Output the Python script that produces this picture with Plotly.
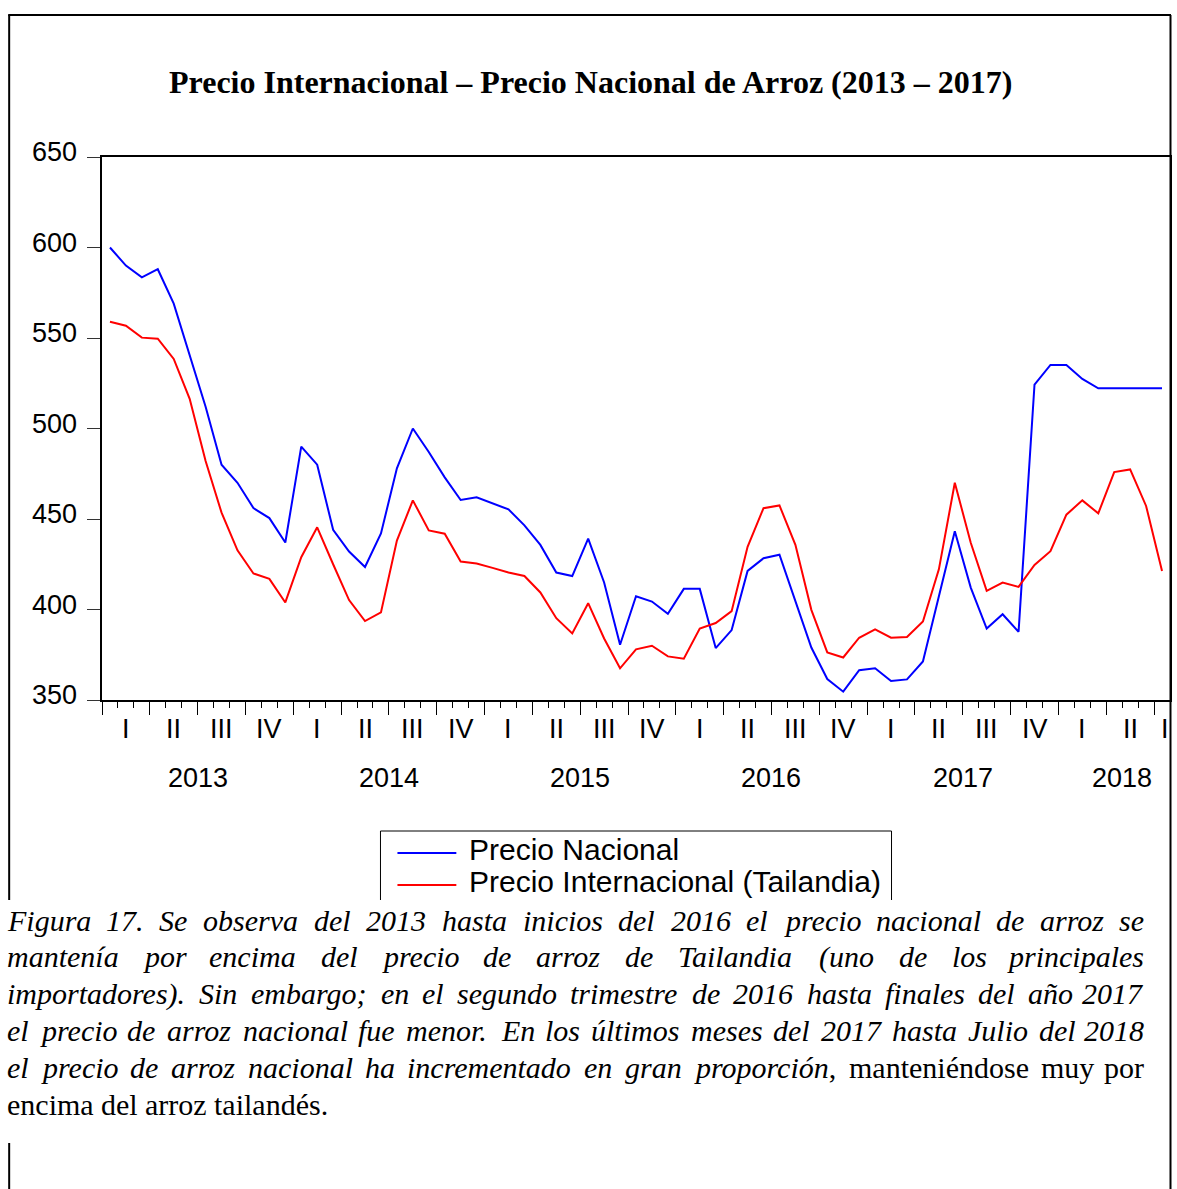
import plotly.graph_objects as go

# ---------------- data (monthly, Jan 2013 - Jul 2018) ----------------
years = [2013, 2014, 2015, 2016, 2017, 2018]
quarter_names = ["I", "II", "III", "IV"]
months = [f"{y}-{m:02d}" for y in years for m in range(1, 13)][:67]

precio_nacional = [
    600, 590, 583.5, 588, 569, 540, 512, 480, 470, 456, 450.5, 437,
    490, 480, 444, 432, 423.5, 442, 478, 500, 487, 473, 460.5, 462,
    458.5, 455.3, 446.5, 435.7, 420.4, 418.5, 439.2, 414.9, 380.5, 407.3, 404.4, 397.6,
    411.4, 411.4, 378.7, 388.6, 421.3, 428.3, 430.3, 404.7, 379.0, 361.6, 354.6, 366.5,
    367.5, 360.5, 361.4, 371.3, 407.5, 443.2, 412.1, 389.5, 397.4, 387.7, 524.3, 535.1,
    535.1, 527.4, 522.2, 522.2, 522.2, 522.2, 522.2,
]
precio_internacional = [
    559, 556.8, 550.2, 549.6, 538.4, 516.4, 482, 453.5, 432.7, 419.9, 416.9, 403.9,
    428.9, 445.4, 425, 405.2, 393.6, 398.4, 438.1, 460.3, 443.7, 441.9, 426.5, 425.4,
    423, 420.4, 418.5, 409.4, 395.2, 386.8, 403.5, 384, 367.5, 378, 380, 374.1,
    372.8, 389.5, 392.5, 399.1, 434.6, 456, 457.5, 435.7, 399.8, 376.3, 373.5, 384.4,
    389, 384.4, 384.8, 393.4, 422.2, 470, 436.9, 410.3, 414.9, 412.5, 424.6, 432.2,
    452.4, 460.3, 453.1, 475.9, 477.4, 457.2, 421.3,
]
y_ticks = [350, 400, 450, 500, 550, 600, 650]

title_text = "Precio Internacional \u2013 Precio Nacional de Arroz (2013 \u2013 2017)"
legend_names = ["Precio Nacional", "Precio Internacional (Tailandia)"]
caption_lines = [
    ("Figura 17. Se observa del 2013 hasta inicios del 2016 el precio nacional de arroz se", ""),
    ("mantenía por encima del precio de arroz de Tailandia (uno de los principales", ""),
    ("importadores). Sin embargo; en el segundo trimestre de 2016 hasta finales del año 2017", ""),
    ("el precio de arroz nacional fue menor. En los últimos meses del 2017 hasta Julio del 2018", ""),
    ("el precio de arroz nacional ha incrementado en gran proporción", ", manteniéndose muy por"),
    ("", "encima del arroz tailandés."),
]

# ---------------- geometry (page pixels) ----------------
W, H = 1177, 1189
L, R, T, B = 102, 1172, 157, 700


def px(xp):
    return (xp - L) / (R - L)


def py(yp):
    return (B - yp) / (B - T)


x = list(range(len(months)))
BLUE = "#0000FF"
RED = "#FF0000"
SANS = "Liberation Sans, Arial, sans-serif"
SERIF = "Liberation Serif, Times New Roman, serif"

fig = go.Figure()
fig.add_trace(go.Scatter(x=x, y=precio_nacional, mode="lines", name=legend_names[0],
                         line=dict(color=BLUE, width=2), showlegend=False))
fig.add_trace(go.Scatter(x=x, y=precio_internacional, mode="lines", name=legend_names[1],
                         line=dict(color=RED, width=2), showlegend=False))

quarter_bounds = [-0.5 + 3 * k for k in range(23)]

fig.update_layout(
    width=W, height=H,
    margin=dict(l=L, r=W - R, t=T, b=H - B, pad=0),
    paper_bgcolor="white", plot_bgcolor="white",
    showlegend=False,
    xaxis=dict(range=[-0.5, len(months) - 0.5], showgrid=False, zeroline=False,
               showline=True, linecolor="black", linewidth=1.5, mirror=True,
               ticks="outside", tickmode="array", tickvals=quarter_bounds,
               ticklen=13, tickwidth=1.3, tickcolor="black", showticklabels=False,
               minor=dict(ticks="outside", tick0=-0.5, dtick=1, ticklen=6,
                          tickwidth=1.3, tickcolor="black", showgrid=False)),
    yaxis=dict(range=[350, 650], showgrid=False, zeroline=False,
               showline=True, linecolor="black", linewidth=1.5, mirror=True,
               ticks="outside", tickmode="array", tickvals=y_ticks,
               ticklen=13, tickwidth=1.3, tickcolor="#333", showticklabels=False),
)

ann = []
shapes = []

# title
ann.append(dict(x=px(591), y=py(82), xref="paper", yref="paper", showarrow=False,
                xanchor="center", yanchor="middle", text=f"<b>{title_text}</b>",
                font=dict(family=SERIF, size=32, color="black")))

# y tick labels (sit slightly above the tick)
for v in y_ticks:
    ann.append(dict(x=px(79), y=v, xref="paper", yref="y", yshift=5, showarrow=False,
                    xanchor="right", yanchor="middle", text=str(v),
                    font=dict(family=SANS, size=27, color="black")))

# quarter labels
nq = 23
for q in range(nq):
    c = 3 * q + 1
    txt = quarter_names[q % 4]
    if c > len(months) - 1:
        c = len(months) - 0.8
        txt = "I"
    ann.append(dict(x=c, y=py(729), xref="x", yref="paper", showarrow=False,
                    xanchor="center", yanchor="middle", text=txt,
                    font=dict(family=SANS, size=27, color="black")))

# year labels
for k, yv in enumerate(years):
    first = 12 * k
    last = 12 * k + 11
    if last > len(months) - 1:
        last = len(months)
    c = (first + last) / 2
    ann.append(dict(x=c, y=py(778), xref="x", yref="paper", showarrow=False,
                    xanchor="center", yanchor="middle", text=str(yv),
                    font=dict(family=SANS, size=27, color="black")))


# outer frame
def hline(x0, x1, y, w=2, color="black"):
    shapes.append(dict(type="line", xref="paper", yref="paper", x0=px(x0), x1=px(x1),
                       y0=py(y), y1=py(y), line=dict(color=color, width=w)))


def vline(xv, y0, y1, w=2, color="black"):
    shapes.append(dict(type="line", xref="paper", yref="paper", x0=px(xv), x1=px(xv),
                       y0=py(y0), y1=py(y1), line=dict(color=color, width=w)))


hline(8, 1173, 15)
vline(9, 15, 900)
vline(9, 1143, 1189)
vline(1172.5, 15, 1189)

# legend box (bottom hidden by caption)
hline(381, 893, 831, w=1)
vline(381, 831, 900, w=1)
vline(893, 831, 900, w=1)
hline(398, 457, 853, w=2, color=BLUE)
hline(398, 457, 885, w=2, color=RED)
ann.append(dict(x=px(468), y=py(849), xref="paper", yref="paper", showarrow=False,
                xanchor="left", yanchor="middle", text=legend_names[0],
                font=dict(family=SANS, size=30, color="black")))
ann.append(dict(x=px(468), y=py(881), xref="paper", yref="paper", showarrow=False,
                xanchor="left", yanchor="middle", text=legend_names[1],
                font=dict(family=SANS, size=30, color="black")))

# caption (justified by word placement)
IT = {'a': 500, 'b': 500, 'c': 444, 'd': 500, 'e': 444, 'f': 278, 'g': 500, 'h': 500,
      'i': 278, 'j': 278, 'k': 444, 'l': 278, 'm': 722, 'n': 500, 'o': 500, 'p': 500,
      'q': 500, 'r': 389, 's': 389, 't': 278, 'u': 500, 'v': 444, 'w': 667, 'x': 444,
      'y': 444, 'z': 389, 'í': 278, 'á': 500, 'é': 444, 'ó': 500, 'ú': 500, 'ñ': 500,
      'F': 611, 'S': 500, 'T': 556, 'E': 611, 'J': 444, '.': 250, ',': 250, ';': 333,
      '(': 333, ')': 333}
RM = {'a': 444, 'b': 500, 'c': 444, 'd': 500, 'e': 444, 'f': 333, 'g': 500, 'h': 500,
      'i': 278, 'j': 278, 'k': 500, 'l': 278, 'm': 778, 'n': 500, 'o': 500, 'p': 500,
      'q': 500, 'r': 333, 's': 389, 't': 278, 'u': 500, 'v': 500, 'w': 722, 'x': 500,
      'y': 500, 'z': 444, 'é': 444, 'á': 444, '.': 250, ',': 250}
CS = 30


def piece_w(t, italic):
    tab = IT if italic else RM
    return sum(tab.get(ch, 500) for ch in t) * CS / 1000.0


left_x, right_x = 6, 1147
for li, (it_part, up_part) in enumerate(caption_lines):
    words = [[(w, True)] for w in it_part.split()]
    up = up_part
    if up.startswith(",") and words:
        words[-1].append((",", False))
        up = up[1:]
    words += [[(w, False)] for w in up.split()]
    widths = [sum(piece_w(t, i) for t, i in wd) for wd in words]
    justify = li < len(caption_lines) - 1
    n = len(words)
    if justify and n > 1:
        gap = (right_x - left_x - sum(widths)) / (n - 1)
    else:
        gap = 250 * CS / 1000.0
    yc = 920 + 36.8 * li
    cx = left_x
    for k, wd in enumerate(words):
        html = "".join(f"<i>{t}</i>" if i else t for t, i in wd)
        if justify and k == n - 1 and n > 1:
            ann.append(dict(x=px(right_x), y=py(yc), xref="paper", yref="paper",
                            showarrow=False, xanchor="right", yanchor="middle", text=html,
                            font=dict(family=SERIF, size=CS, color="black"), borderpad=0))
        else:
            ann.append(dict(x=px(cx), y=py(yc), xref="paper", yref="paper",
                            showarrow=False, xanchor="left", yanchor="middle", text=html,
                            font=dict(family=SERIF, size=CS, color="black"), borderpad=0))
        cx += widths[k] + gap

fig.update_layout(annotations=ann, shapes=shapes)
fig.write_html(
    "out.html",
    config={"displayModeBar": False},
    post_script="document.body.style.margin='0px';document.body.style.overflow='hidden';",
)
